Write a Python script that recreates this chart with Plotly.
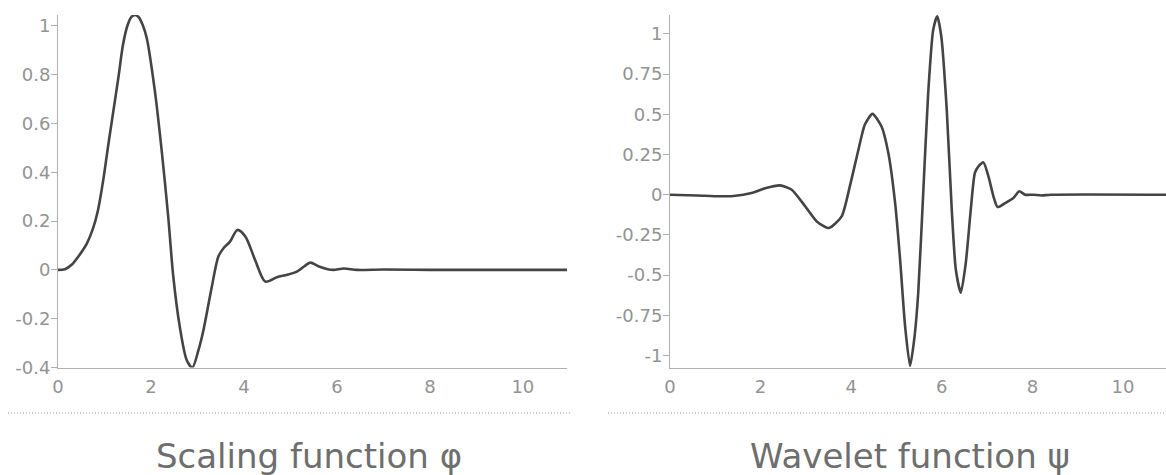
import plotly.graph_objects as go

# Scaling function phi
phi_x = [0, 0.15, 0.3, 0.45, 0.62, 0.75, 0.86, 0.975, 1.08, 1.19, 1.30, 1.40, 1.50, 1.58, 1.66, 1.74, 1.82, 1.91, 2.09, 2.23, 2.37,
         2.48, 2.62, 2.77, 2.89, 3.02, 3.13, 3.31, 3.45, 3.56, 3.70, 3.86, 4.03, 4.24, 4.46, 4.71,
         4.93, 5.14, 5.30, 5.43, 5.60, 5.80, 5.93, 6.15, 6.43, 7.0, 8.0, 11.0]
phi_y = [0, 0.003, 0.022, 0.058, 0.108, 0.168, 0.245, 0.37, 0.51, 0.65, 0.79, 0.925, 1.005, 1.037, 1.045, 1.035, 1.005, 0.95, 0.725, 0.49, 0.22,
         -0.027, -0.233, -0.37, -0.40, -0.33, -0.246, -0.068, 0.055, 0.089, 0.116, 0.164, 0.137, 0.041, -0.048, -0.03,
         -0.02, -0.007, 0.015, 0.03, 0.015, 0.003, 0.0, 0.006, 0.0, 0.0015, 0.0, 0.0]

# Wavelet function psi
psi_x = [0, 0.6, 1.1, 1.4, 1.8, 2.1, 2.43, 2.68, 2.98, 3.24, 3.51, 3.79, 3.97, 4.16, 4.30, 4.47, 4.67,
         4.82, 4.97, 5.08, 5.19, 5.30, 5.40, 5.48, 5.59, 5.70, 5.81, 5.90, 5.99, 6.11, 6.22, 6.31,
         6.42, 6.53, 6.64, 6.73, 6.81, 6.92, 7.03, 7.14, 7.23, 7.40, 7.58, 7.71, 7.84, 8.02, 8.2, 8.4, 11.0]
psi_y = [0, -0.005, -0.01, -0.008, 0.01, 0.04, 0.058, 0.032, -0.07, -0.166, -0.207, -0.135, 0.052, 0.28, 0.435, 0.503, 0.424,
         0.259, -0.052, -0.404, -0.818, -1.066, -0.88, -0.61, 0.01, 0.632, 1.025, 1.11, 0.983, 0.528, -0.093, -0.466,
         -0.61, -0.424, -0.093, 0.135, 0.176, 0.201, 0.114, -0.01, -0.077, -0.052, -0.021, 0.021, 0.0, 0.0, -0.005, 0.0, 0.0]

x_ticks = [0, 2, 4, 6, 8, 10]
phi_yticks = [-0.4, -0.2, 0, 0.2, 0.4, 0.6, 0.8, 1]
phi_ylabels = ["-0.4", "-0.2", "0", "0.2", "0.4", "0.6", "0.8", "1"]
psi_yticks = [-1, -0.75, -0.5, -0.25, 0, 0.25, 0.5, 0.75, 1]
psi_ylabels = ["-1", "-0.75", "-0.5", "-0.25", "0", "0.25", "0.5", "0.75", "1"]
titles = ["Scaling function φ", "Wavelet function ψ"]

W, H = 1166, 475
line_col = "#444444"
axis_col = "#b0b0b0"
tick_font = dict(family="DejaVu Sans", size=18, color="#939393")

fig = go.Figure()
fig.add_trace(go.Scatter(x=phi_x, y=phi_y, mode="lines", xaxis="x", yaxis="y",
                         line=dict(color=line_col, width=2.6, shape="spline", smoothing=0.8),
                         hoverinfo="skip", showlegend=False))
fig.add_trace(go.Scatter(x=psi_x, y=psi_y, mode="lines", xaxis="x2", yaxis="y2",
                         line=dict(color=line_col, width=2.6, shape="spline", smoothing=0.6),
                         hoverinfo="skip", showlegend=False))

ydom = [1 - 367.5 / H, 1 - 15 / H]
common_x = dict(range=[0, 10.95], tickvals=x_ticks, ticks="", showgrid=False, zeroline=False,
                showline=True, linecolor=axis_col, linewidth=1, tickfont=tick_font, fixedrange=True,
                ticklabelstandoff=3, automargin=False)
common_y = dict(showgrid=False, zeroline=False, showline=True, linecolor=axis_col, linewidth=1,
                ticks="outside", ticklen=6, tickcolor=axis_col, tickfont=tick_font, fixedrange=True,
                ticklabelstandoff=-3, automargin=False)

fig.update_layout(
    width=W, height=H,
    margin=dict(l=0, r=0, t=0, b=0, pad=0),
    paper_bgcolor="white", plot_bgcolor="white",
    xaxis=dict(domain=[58 / W, 567 / W], anchor="y", **common_x),
    yaxis=dict(domain=ydom, anchor="x", range=[-0.4, 1.045], tickvals=phi_yticks,
               ticktext=phi_ylabels, **common_y),
    xaxis2=dict(domain=[670 / W, 1.0], anchor="y2", **common_x),
    yaxis2=dict(domain=ydom, anchor="x2", range=[-1.075, 1.118], tickvals=psi_yticks,
                ticktext=psi_ylabels, **common_y),
)

# dotted separators
for x0, x1 in [(8, 570), (608, 1166)]:
    fig.add_shape(type="line", xref="paper", yref="paper", x0=x0 / W, x1=x1 / W,
                  y0=1 - 413 / H, y1=1 - 413 / H, line=dict(color="#a0a0a0", width=1, dash="1px,2px"))

for cx, t in zip([308.5, 910], titles):
    fig.add_annotation(text=t, xref="paper", yref="paper", x=cx / W, y=1 - 456 / H,
                       xanchor="center", yanchor="middle", showarrow=False,
                       font=dict(family="DejaVu Sans", size=34, color="#6e6e6e"))

fig.write_html("out.html")
